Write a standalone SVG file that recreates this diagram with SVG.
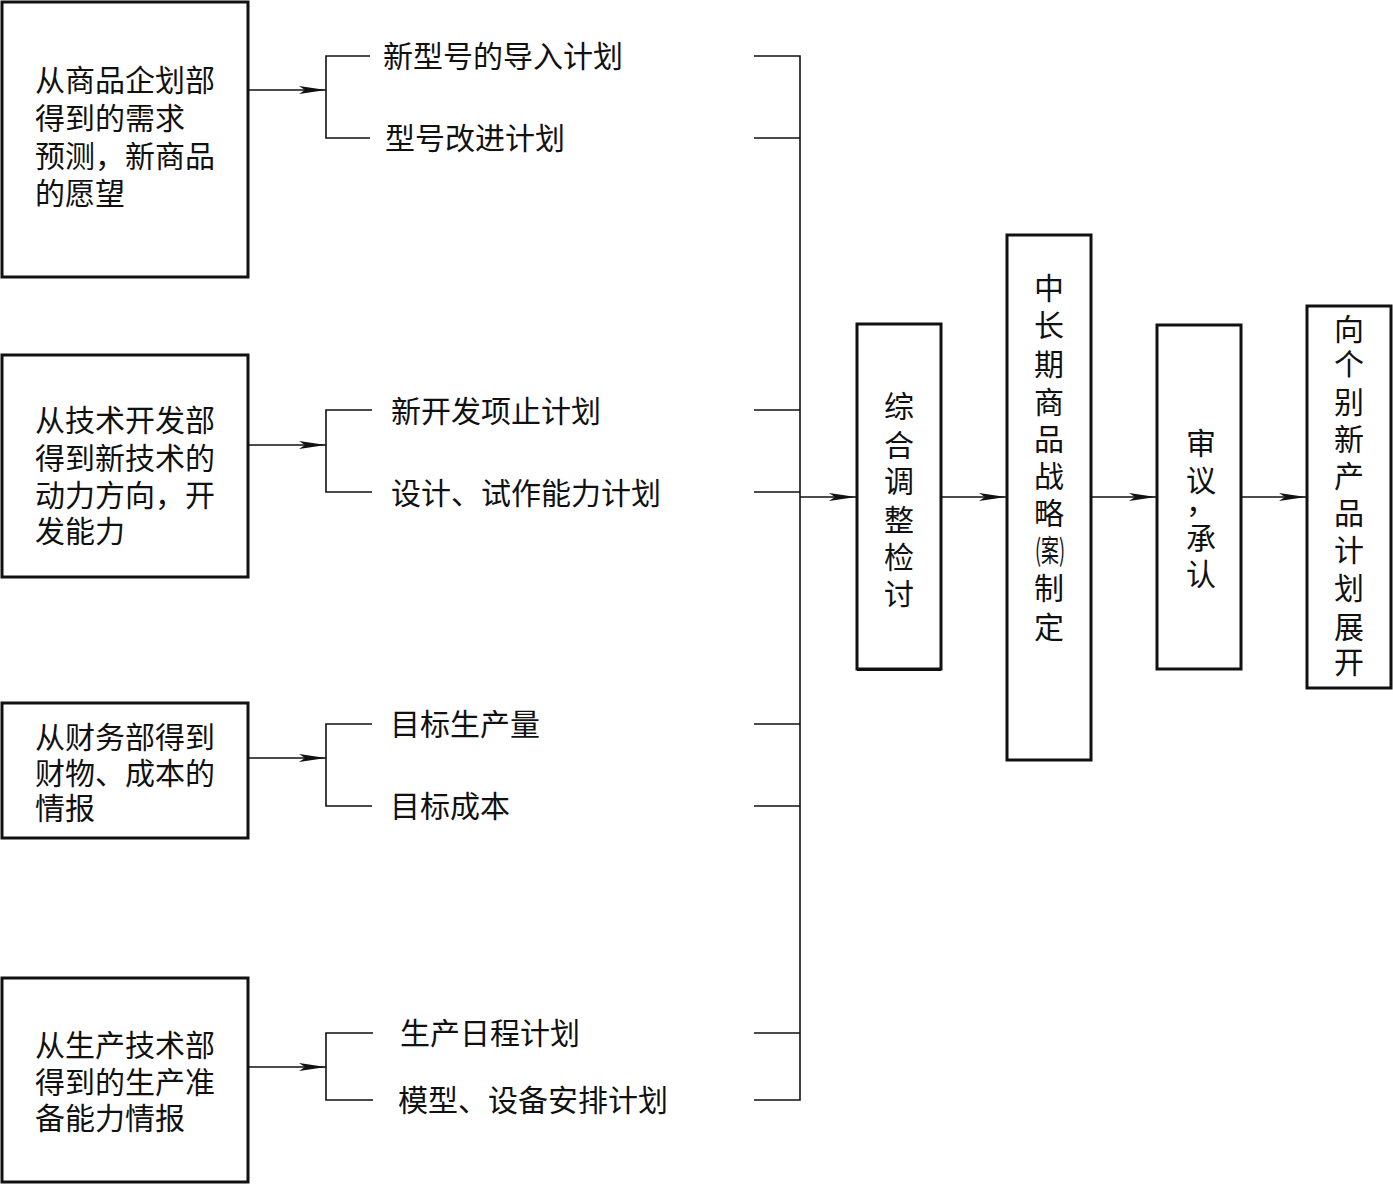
<svg xmlns="http://www.w3.org/2000/svg" width="1393" height="1184" viewBox="0 0 1393 1184">
<style>
.box{fill:#fff;stroke:#111;stroke-width:3}
.ln{fill:none;stroke:#111;stroke-width:1.6}
.t{font-family:"Noto Sans CJK SC","Liberation Serif",sans-serif;font-size:30px;fill:#111}
.v{text-anchor:middle}
</style>
<defs>
<marker id="arr" markerUnits="userSpaceOnUse" markerWidth="28" markerHeight="10" refX="27" refY="5" orient="auto">
<path d="M0,1 L27,5 L0,9 L6,5 z" fill="#111"/>
</marker>
</defs>
<rect width="1393" height="1184" fill="#fff"/>

<g id="src1">
<rect class="box" x="2" y="2" width="246" height="275"/>
<text class="t"><tspan x="35" y="91">从商品企划部</tspan><tspan x="35" y="129">得到的需求</tspan><tspan x="35" y="167">预测，新商品</tspan><tspan x="35" y="204">的愿望</tspan></text>
</g>
<g id="src2">
<rect class="box" x="2" y="355" width="246" height="222"/>
<text class="t"><tspan x="35" y="431">从技术开发部</tspan><tspan x="35" y="469">得到新技术的</tspan><tspan x="35" y="506">动力方向，开</tspan><tspan x="35" y="542">发能力</tspan></text>
</g>
<g id="src3">
<rect class="box" x="2" y="703" width="246" height="135"/>
<text class="t"><tspan x="35" y="748">从财务部得到</tspan><tspan x="35" y="784">财物、成本的</tspan><tspan x="35" y="819">情报</tspan></text>
</g>
<g id="src4">
<rect class="box" x="2" y="978" width="246" height="204"/>
<text class="t"><tspan x="35" y="1056">从生产技术部</tspan><tspan x="35" y="1093">得到的生产准</tspan><tspan x="35" y="1129">备能力情报</tspan></text>
</g>

<g id="items">
<text class="t" x="383" y="67">新型号的导入计划</text>
<text class="t" x="385" y="149">型号改进计划</text>
<text class="t" x="391" y="422">新开发项止计划</text>
<text class="t" x="391" y="504">设计、试作能力计划</text>
<text class="t" x="390" y="735">目标生产量</text>
<text class="t" x="390" y="817">目标成本</text>
<text class="t" x="400" y="1044">生产日程计划</text>
<text class="t" x="398" y="1111">模型、设备安排计划</text>
</g>

<g id="review">
<rect class="box" x="857" y="324" width="84" height="345"/>
<line x1="857" y1="670" x2="941" y2="670" stroke="#111" stroke-width="2"/>
<text class="t v"><tspan x="899" y="417">综</tspan><tspan x="899" y="456">合</tspan><tspan x="899" y="492">调</tspan><tspan x="899" y="531">整</tspan><tspan x="899" y="568">检</tspan><tspan x="899" y="605">讨</tspan></text>
</g>
<g id="strategy">
<rect class="box" x="1007" y="235" width="84" height="525"/>
<text class="t v"><tspan x="1049" y="299">中</tspan><tspan x="1049" y="336">长</tspan><tspan x="1049" y="375">期</tspan><tspan x="1049" y="413">商</tspan><tspan x="1049" y="450">品</tspan><tspan x="1049" y="487">战</tspan><tspan x="1049" y="524">略</tspan></text>
<text class="t v" x="1050" y="561" textLength="30" lengthAdjust="spacingAndGlyphs">(案)</text>
<text class="t v"><tspan x="1049" y="599">制</tspan><tspan x="1049" y="638">定</tspan></text>
</g>
<g id="approve">
<rect class="box" x="1157" y="325" width="84" height="344"/>
<text class="t v"><tspan x="1201" y="454">审</tspan><tspan x="1201" y="491">议</tspan></text>
<text class="t" x="1186" y="513">，</text>
<text class="t v"><tspan x="1201" y="549">承</tspan><tspan x="1201" y="585">认</tspan></text>
</g>
<g id="deploy">
<rect class="box" x="1307" y="306" width="84" height="382"/>
<text class="t v"><tspan x="1349" y="340">向</tspan><tspan x="1349" y="375">个</tspan><tspan x="1349" y="413">别</tspan><tspan x="1349" y="450">新</tspan><tspan x="1349" y="487">产</tspan><tspan x="1349" y="524">品</tspan><tspan x="1349" y="561">计</tspan><tspan x="1349" y="599">划</tspan><tspan x="1349" y="638">展</tspan><tspan x="1349" y="673">开</tspan></text>
</g>

<g id="connectors">
<line class="ln" x1="248" y1="90" x2="326" y2="90" marker-end="url(#arr)"/>
<path class="ln" d="M370,56 H326 V138 H370"/>
<line class="ln" x1="248" y1="445" x2="326" y2="445" marker-end="url(#arr)"/>
<path class="ln" d="M372,410 H326 V492 H372"/>
<line class="ln" x1="248" y1="758" x2="326" y2="758" marker-end="url(#arr)"/>
<path class="ln" d="M372,724 H326 V806 H372"/>
<line class="ln" x1="248" y1="1067" x2="326" y2="1067" marker-end="url(#arr)"/>
<path class="ln" d="M373,1033 H326 V1100 H373"/>

<path class="ln" d="M754,56 H800 V1100 H754"/>
<line class="ln" x1="754" y1="138" x2="800" y2="138"/>
<line class="ln" x1="754" y1="410" x2="800" y2="410"/>
<line class="ln" x1="754" y1="492" x2="800" y2="492"/>
<line class="ln" x1="754" y1="724" x2="800" y2="724"/>
<line class="ln" x1="754" y1="806" x2="800" y2="806"/>
<line class="ln" x1="754" y1="1033" x2="800" y2="1033"/>

<line class="ln" x1="800" y1="497" x2="856" y2="497" marker-end="url(#arr)"/>
<line class="ln" x1="941" y1="497" x2="1006" y2="497" marker-end="url(#arr)"/>
<line class="ln" x1="1091" y1="497" x2="1156" y2="497" marker-end="url(#arr)"/>
<line class="ln" x1="1241" y1="497" x2="1306" y2="497" marker-end="url(#arr)"/>
</g>
</svg>
